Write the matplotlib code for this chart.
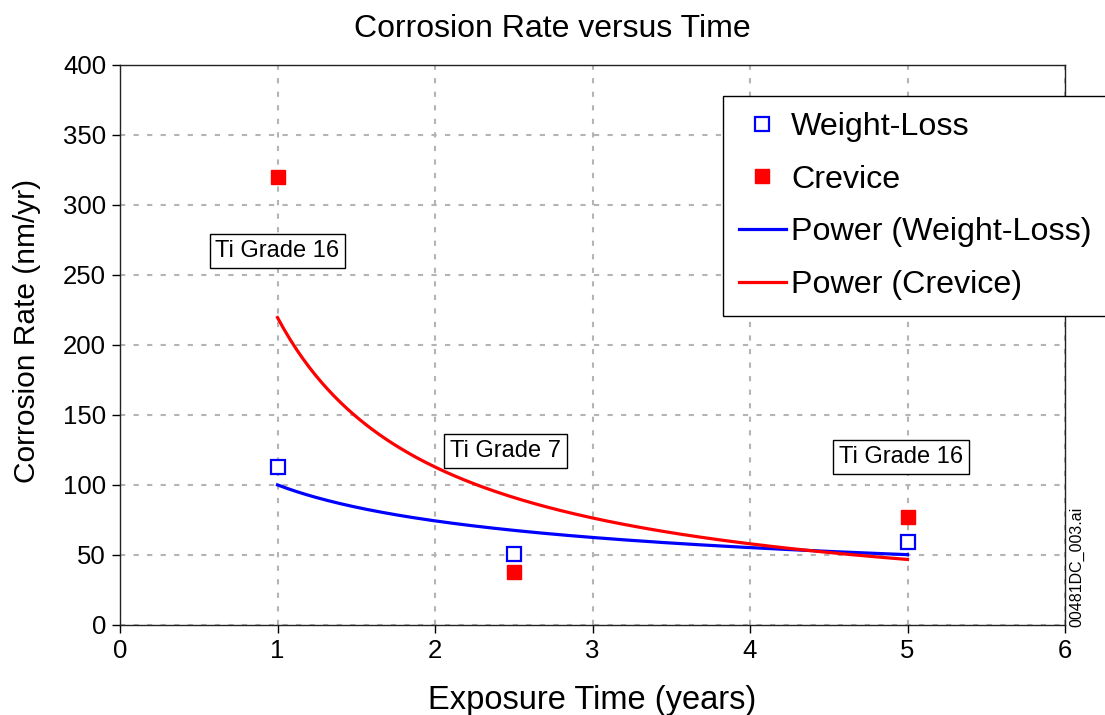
import numpy as np
import matplotlib
matplotlib.use("Agg")
import matplotlib.pyplot as plt

plt.rcParams['font.family'] = ['Liberation Sans', 'DejaVu Sans']

# Measured corrosion rates (nm/yr) against exposure time (years)
time_wl = [1.0, 2.5, 5.0]
rate_wl = [113, 51, 59]
time_cr = [1.0, 2.5, 5.0]
rate_cr = [320, 38, 77]

annotations = [("Ti Grade 16", 1.0, 267), ("Ti Grade 7", 2.45, 124), ("Ti Grade 16", 4.96, 120)]


def power_fit(x, y):
    """Least-squares fit of y = a * x**b in log space."""
    b, ln_a = np.polyfit(np.log(x), np.log(y), 1)
    return np.exp(ln_a), b


fig = plt.figure(figsize=(11.05, 7.15), dpi=100)
ax = fig.add_axes([120 / 1105, 90 / 715, 945 / 1105, 560 / 715])

ax.plot(time_wl, rate_wl, linestyle='none', marker='s', markersize=9.5,
        markerfacecolor='white', markeredgecolor='#0000ff', markeredgewidth=1.6,
        label='Weight-Loss', zorder=4)
ax.plot(time_cr, rate_cr, linestyle='none', marker='s', markersize=10,
        markerfacecolor='#ff0000', markeredgecolor='#ff0000',
        label='Crevice', zorder=4)

xs = np.linspace(min(time_wl), max(time_wl), 200)
a_wl, b_wl = power_fit(time_wl, rate_wl)
a_cr, b_cr = power_fit(time_cr, rate_cr)
ax.plot(xs, a_wl * xs ** b_wl, color='#0000ff', lw=2.3, label='Power (Weight-Loss)', zorder=3)
ax.plot(xs, a_cr * xs ** b_cr, color='#ff0000', lw=2.3, label='Power (Crevice)', zorder=3)

ax.set_xlim(0, 6)
ax.set_ylim(0, 400)
ax.set_xticks(range(0, 7))
ax.set_yticks(range(0, 401, 50))
ax.grid(True, color='#b4b4b4', linestyle=(0, (2.5, 4)), linewidth=1.5)
ax.tick_params(direction='out', length=6, width=1, labelsize=18.5, pad=4)
for s in ax.spines.values():
    s.set_linewidth(1.0)
    s.set_color('#222222')

fig.text(0.5, 1 - 37 / 715, 'Corrosion Rate versus Time', fontsize=23,
         ha='center', va='baseline')
ax.set_xlabel('Exposure Time (years)', fontsize=23.5, labelpad=16)
ax.set_ylabel('Corrosion Rate (nm/yr)', fontsize=21.5)
ax.yaxis.set_label_coords(-0.0836, 0.525)

for txt, x, y in annotations:
    ax.text(x, y, txt, fontsize=17, ha='center', va='center', zorder=5,
            bbox=dict(boxstyle='square,pad=0.25', facecolor='white',
                      edgecolor='black', linewidth=1.0))

leg = fig.legend(loc='upper left', bbox_to_anchor=(723 / 1105, 1 - 96 / 715),
                 bbox_transform=fig.transFigure, fontsize=23.2, frameon=True,
                 fancybox=False, edgecolor='black', framealpha=1,
                 handlelength=1.45, handletextpad=0.17, labelspacing=0.7,
                 borderpad=0.5, borderaxespad=0)
leg.get_frame().set_linewidth(1.0)

fig.text(1077 / 1105, 1 - 627 / 715, '00481DC_003.ai', rotation=90,
         fontsize=11.5, ha='center', va='bottom')

fig.savefig('out.png', dpi=100)
